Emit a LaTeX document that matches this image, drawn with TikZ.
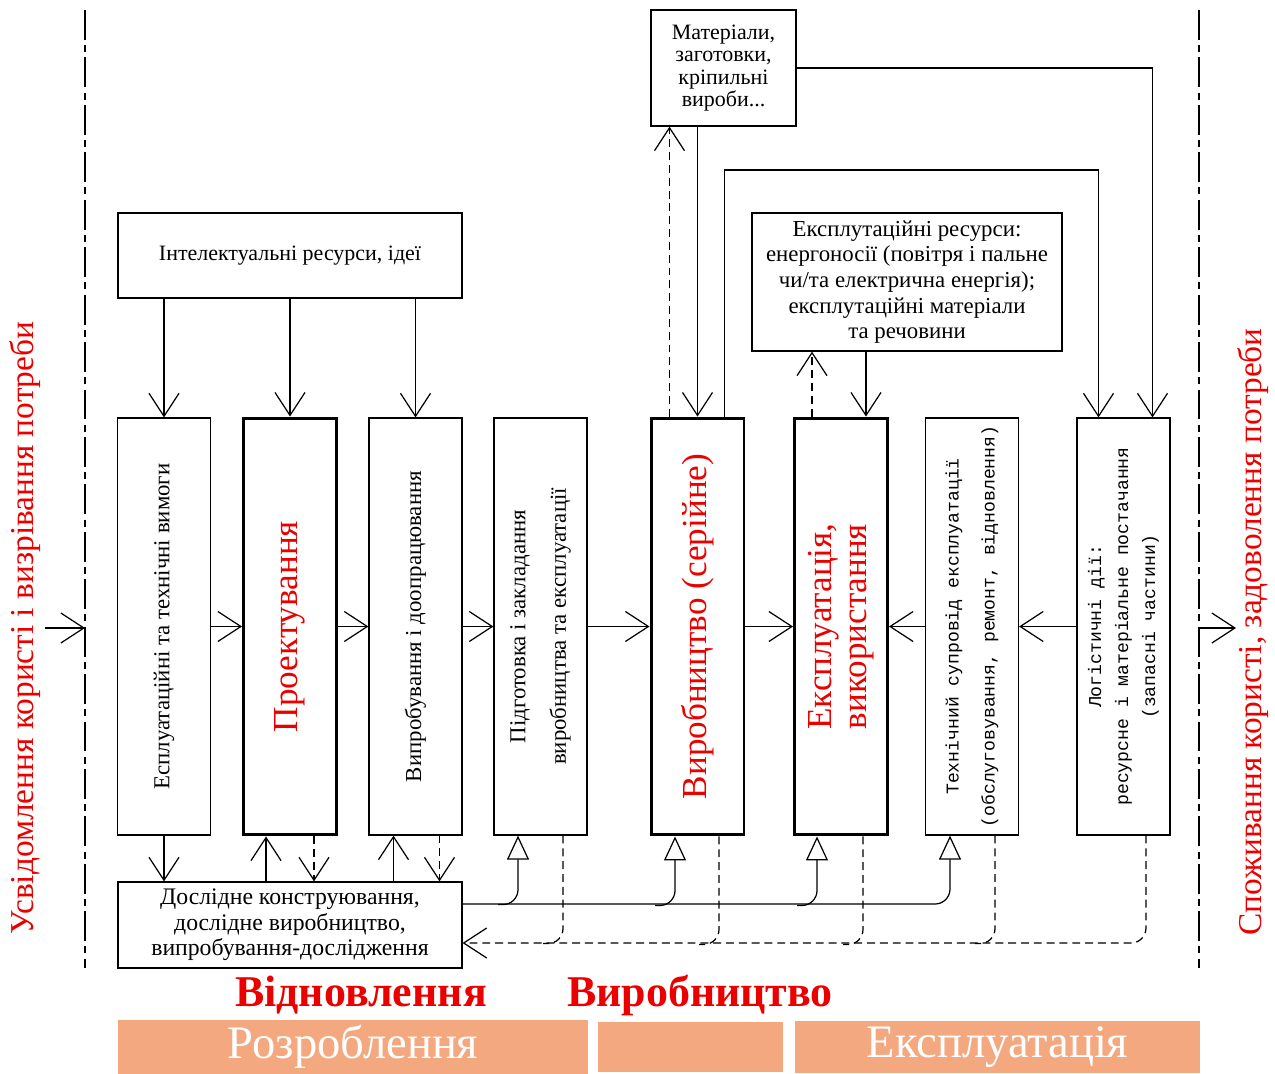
\documentclass[tikz,border=0pt]{standalone}
\usepackage{fontspec}
\setmainfont{Liberation Serif}
\setmonofont{Liberation Mono}
\usetikzlibrary{arrows.meta}
\definecolor{stripe}{RGB}{244,168,128}
\definecolor{redtext}{RGB}{235,0,0}
\tikzset{
  stage/.style={draw, rectangle, line width=0.7pt, minimum width=1.86cm, minimum height=8.34cm, inner sep=0pt},
  keystage/.style={stage, line width=1.7pt},
  res/.style={draw, rectangle, line width=0.7pt, align=center, inner sep=0pt},
  vtext/.style={rotate=90, align=center},
  flow/.style={line width=0.7pt, -{Straight Barb[length=0.46cm,width=0.6cm]}},
  backdash/.style={dash pattern=on 4.5pt off 2.8pt},
  feed/.style={line width=0.7pt, {Triangle[open,length=0.48cm,width=0.44cm]}-, rounded corners=0.3cm},
  ret/.style={line width=0.7pt, backdash, rounded corners=0.3cm},
  border/.style={line width=0.8pt, dash pattern=on 17pt off 3pt on 4pt off 3pt},
  bandbox/.style={fill=stripe, minimum height=1cm, text=white, font=\fontsize{26.5}{26.5}\selectfont},
  phase/.style={text=redtext, font=\fontsize{25}{25}\selectfont\bfseries}
}
\begin{document}
\begin{tikzpicture}[x=0.02cm, y=-0.02cm]
\useasboundingbox (0,0) rectangle (1275,1073);

% Boundaries of the life cycle
\draw[border] (85,10) -- (85,968);
\draw[border] (1199,10) -- (1199,968);
\node[vtext, text=redtext, font=\fontsize{19}{19}\selectfont] (need) at (25,628) {Усвідомлення користі і визрівання потреби};
\node[vtext, text=redtext, font=\fontsize{19}{19}\selectfont] (use) at (1253,632) {Споживання користі, задоволення потреби};
\coordinate (inL) at (45,628);
\coordinate (inR) at (85,628);
\coordinate (outL) at (1199,628);
\coordinate (outR) at (1236,628);
\draw[flow] (inL) -- (inR);
\draw[flow] (outL) -- (outR);

% Resources
\node[res, minimum width=6.88cm, minimum height=1.7cm, font=\fontsize{12.5}{14}\selectfont] (ideas) at (290,255.5) {Інтелектуальні ресурси, ідеї};
\node[res, minimum width=2.9cm, minimum height=2.32cm, font=\fontsize{12.5}{12.7}\selectfont] (mater) at (723.5,68) {Матеріали,\\ заготовки,\\ кріпильні\\ вироби...};
\node[res, minimum width=6.2cm, minimum height=2.76cm, font=\fontsize{13}{14.6}\selectfont] (opres) at (907,282) {Експлутаційні ресурси:\\ енергоносії (повітря і пальне\\ чи/та електрична енергія);\\ експлутаційні матеріали\\ та речовини};

% Stages
\node[stage] (req) at (164,626.5) {};
\node[vtext, font=\fontsize{13}{23}\selectfont] at (req) {Есплуатаційні та технічні вимоги};
\node[keystage] (design) at (290,626.5) {};
\node[vtext, text=redtext, font=\fontsize{20}{20}\selectfont] at (design) {Проектування};
\node[stage] (tests) at (415.5,626.5) {};
\node[vtext, font=\fontsize{13}{23}\selectfont] at (tests) {Випробування і доопрацювання};
\node[stage] (prep) at (540.5,626.5) {};
\node[vtext, font=\fontsize{13}{23}\selectfont] at (prep) {Підготовка і закладання\\ виробництва та експлуатації};
\node[keystage] (serial) at (697.5,626.5) {};
\node[vtext, text=redtext, font=\fontsize{20}{20}\selectfont] at (serial) {Виробництво (серійне)};
\node[keystage] (oper) at (841,626.5) {};
\node[vtext, text=redtext, font=\fontsize{20}{19.5}\selectfont] at (oper) {Експлуатація,\\ використання};
\node[stage] (support) at (972,626.5) {};
\node[vtext, font=\ttfamily\fontsize{10.3}{20.5}\selectfont] at (support) {Технічний супровід експлуатації\\ (обслуговування, ремонт, відновлення)};
\node[stage] (logist) at (1123.5,626.5) {};
\node[vtext, font=\ttfamily\fontsize{10.3}{15.4}\selectfont] at (logist) {Логістичні дії:\\ ресурсне і матеріальне постачання\\ (запасні частини)};

% Prototype works
\node[res, minimum width=6.88cm, minimum height=1.72cm, font=\fontsize{13.5}{14.5}\selectfont] (proto) at (290,925) {Дослідне конструювання,\\ дослідне виробництво,\\ випробування-дослідження};

% Main chain
\draw[flow] (req) -- (design);
\draw[flow] (design) -- (tests);
\draw[flow] (tests) -- (prep);
\draw[flow] (prep) -- (serial);
\draw[flow] (serial) -- (oper);
\draw[flow] (support) -- (oper);
\draw[flow] (logist) -- (support);

% Ideas feed the early stages
\draw[flow] (req.north |- ideas.south) -- (req.north);
\draw[flow] (design.north |- ideas.south) -- (design.north);
\draw[flow] (tests.north |- ideas.south) -- (tests.north);

% Materials and operating resources
\draw[flow] (serial.north |- mater.south) -- (serial.north);
\draw[flow, backdash] ([xshift=-0.56cm]serial.north) -- ([xshift=-0.56cm]serial.north |- mater.south);
\draw[flow] (mater.east) -| ([xshift=0.58cm]logist.north);
\coordinate (loop) at (0,170);
\draw[flow] ([xshift=0.54cm]serial.north) -- ([xshift=0.54cm]serial.north |- loop) -| ([xshift=-0.5cm]logist.north);
\draw[flow] ([xshift=0.5cm]oper.north |- opres.south) -- ([xshift=0.5cm]oper.north);
\draw[flow, backdash] ([xshift=-0.58cm]oper.north) -- ([xshift=-0.58cm]oper.north |- opres.south);

% Links with prototype works
\draw[flow] (req.south) -- (req.south |- proto.north);
\draw[flow] ([xshift=-0.48cm]design.south |- proto.north) -- ([xshift=-0.48cm]design.south);
\draw[flow, backdash] ([xshift=0.48cm]design.south) -- ([xshift=0.48cm]design.south |- proto.north);
\draw[flow] ([xshift=-0.44cm]tests.south |- proto.north) -- ([xshift=-0.44cm]tests.south);
\draw[flow, backdash] ([xshift=0.48cm]tests.south) -- ([xshift=0.48cm]tests.south |- proto.north);

% Results of prototype works
\draw[feed] ([xshift=-0.44cm]support.south) |- ([yshift=0.42cm]proto.east);
\draw[feed] ([xshift=-0.45cm]prep.south) |- ++(-20,69);
\draw[feed] ([xshift=-0.45cm]serial.south) |- ++(-20,69);
\draw[feed] ([xshift=-0.48cm]oper.south) |- ++(-20,69);

% Feedback to prototype works
\draw[ret, -{Straight Barb[length=0.46cm,width=0.6cm]}] ([xshift=0.45cm]logist.south) |- ([yshift=-0.36cm]proto.east);
\draw[ret] ([xshift=0.45cm]prep.south) |- ++(-20,108);
\draw[ret] ([xshift=0.43cm]serial.south) |- ++(-20,108);
\draw[ret] ([xshift=0.44cm]oper.south) |- ++(-20,108);
\draw[ret] ([xshift=0.46cm]support.south) |- ++(-20,108);

% Phases
\node[phase] (renew) at (361,995) {Відновлення};
\node[phase] (manuf) at (700,995) {Виробництво};
\node[bandbox, minimum width=9.4cm] (dev) at (353,1047) {Розроблення};
\node[bandbox, minimum width=3.7cm] (prod) at (690.5,1047) {};
\node[bandbox, minimum width=8.1cm] (expl) at (997.5,1047) {Експлуатація};
\end{tikzpicture}
\end{document}
